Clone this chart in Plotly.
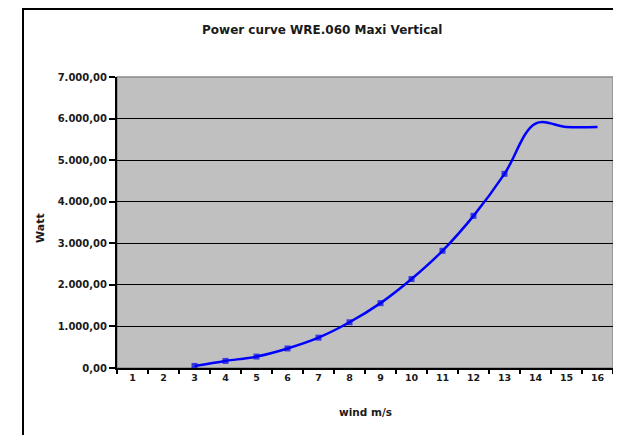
import plotly.graph_objects as go

categories = [str(i) for i in range(1, 17)]
wind_speed = ["3", "4", "5", "6", "7", "8", "9", "10", "11", "12", "13", "14", "15", "16"]
power_watt = [50, 170, 275, 470, 730, 1100, 1560, 2140, 2820, 3660, 4670, 5880, 5800, 5800]
y_ticks = [0, 1000, 2000, 3000, 4000, 5000, 6000, 7000]

# page body has an 8px default margin; work in window coordinates and shift
OFF = 8
W, H = 621 - OFF, 435 - OFF
PL, PR, PT, PB = 117, 613, 77, 368  # plot area in window coords
L, R, T, B = PL - OFF, W - (PR - OFF), PT - OFF, H - (PB - OFF)
pw, ph = W - L - R, H - T - B

def px(x):
    return (x - OFF - L) / pw

def py(y):
    return (H - B - (y - OFF)) / ph

marker_sizes = [6] * 11 + [0, 0, 0]

fig = go.Figure()
fig.add_trace(go.Scatter(
    x=wind_speed, y=power_watt, mode="lines+markers",
    line=dict(color="#0000FF", width=2.5, shape="spline", smoothing=1.0),
    marker=dict(symbol="square", size=marker_sizes, color="#0000EE", line=dict(width=0)),
    showlegend=False, hoverinfo="x+y",
))

font = "DejaVu Sans, Verdana, sans-serif"
txt = "#1a1a1a"
fig.update_layout(
    width=W, height=H,
    margin=dict(l=L, r=R, t=T, b=B),
    paper_bgcolor="white", plot_bgcolor="#C0C0C0",
    separators=",.",
    font=dict(family=font, size=10, color=txt),
    xaxis=dict(type="category", categoryorder="array", categoryarray=categories,
               range=[-0.5, 15.5], tickmode="array", tickvals=categories, ticktext=categories,
               tickson="boundaries", ticks="outside", ticklen=4, tickcolor="black", tickwidth=1.5,
               showline=True, linecolor="black", linewidth=2, showgrid=False,
               tickfont=dict(size=9.5, color=txt, weight="bold")),
    yaxis=dict(range=[0, 7000], tickvals=y_ticks, tickformat=",.2f",
               ticks="outside", ticklen=6, tickcolor="black", tickwidth=1.5,
               showline=True, linecolor="black", linewidth=2,
               showgrid=True, gridcolor="black", gridwidth=1.2, zeroline=False,
               tickfont=dict(size=10, color=txt, weight="bold")),
    annotations=[
        dict(text="<b>Power curve WRE.060 Maxi Vertical</b>", xref="paper", yref="paper",
             x=px(321.5), y=py(30), xanchor="center", yanchor="middle", showarrow=False,
             font=dict(size=12, color=txt)),
        dict(text="<b>Watt</b>", xref="paper", yref="paper", x=px(41), y=py(228),
             xanchor="center", yanchor="middle", textangle=-90, showarrow=False,
             font=dict(size=11, color=txt)),
        dict(text="<b>wind m/s</b>", xref="paper", yref="paper", x=px(365.5), y=py(412),
             xanchor="center", yanchor="middle", showarrow=False,
             font=dict(size=10.5, color=txt)),
    ],
    shapes=[
        dict(type="rect", xref="paper", yref="paper", x0=0, x1=1, y0=0, y1=1,
             line=dict(color="#8a8a8a", width=1.5), layer="below"),
        dict(type="rect", xref="paper", yref="paper", x0=px(23), x1=px(620), y0=py(460), y1=py(9),
             line=dict(color="black", width=2)),
    ],
)

fig.write_html("out.html")
